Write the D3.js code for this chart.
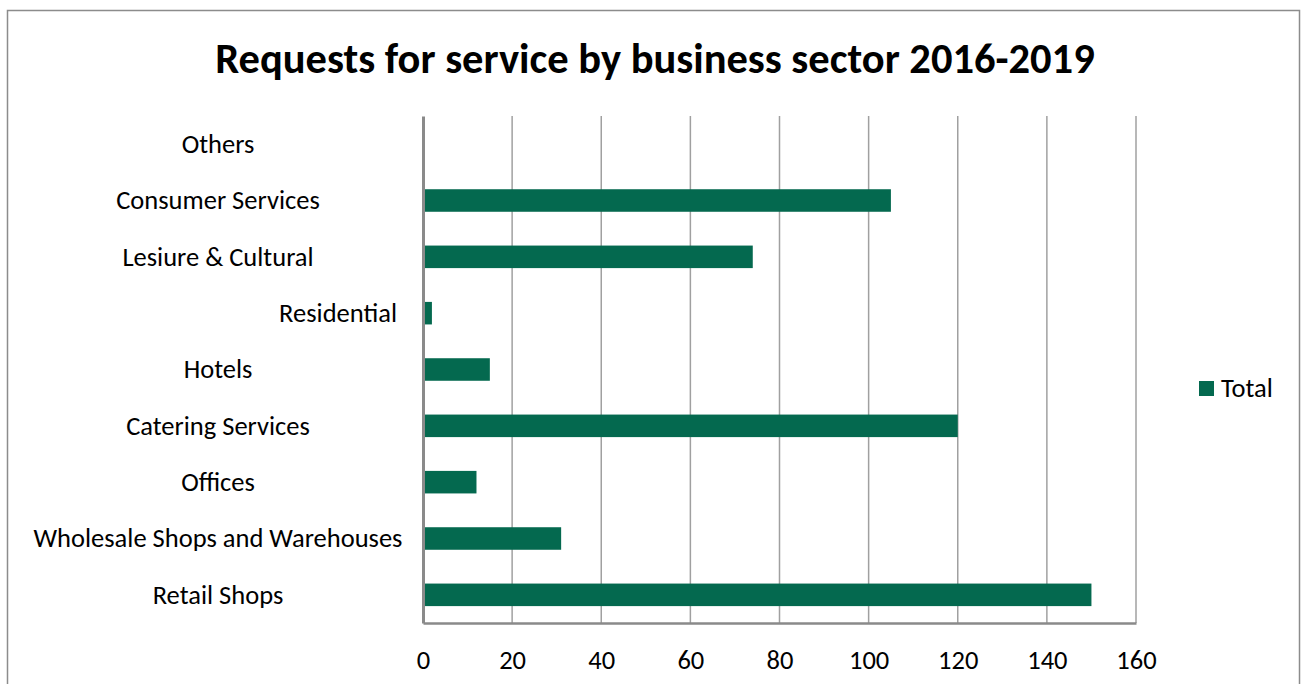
<!DOCTYPE html>
<html>
<head>
<meta charset="utf-8">
<script src="https://cdn.jsdelivr.net/npm/d3@7"></script>
<style>
  html, body { margin: 0; padding: 0; background: #fff; }
  svg { display: block; }
  text { font-family: Carlito, Lato, "Open Sans", sans-serif; fill: #000; }
</style>
</head>
<body>
<svg id="chart" width="1306" height="684"></svg>
<script>
// Requests for service, totals per business sector (2016-2019)
const sectors = [
  "Others",
  "Consumer Services",
  "Lesiure & Cultural",
  "Residential",
  "Hotels",
  "Catering Services",
  "Offices",
  "Wholesale Shops and Warehouses",
  "Retail Shops"
];
const totals = [0, 105, 74, 2, 15, 120, 12, 31, 150];
const xTicks = [0, 20, 40, 60, 80, 100, 120, 140, 160];
const seriesName = "Total";
const chartTitle = "Requests for service by business sector 2016-2019";

const rows = sectors.map((s, i) => ({ sector: s, value: totals[i] }));

const plot = { left: 423, right: 1136, top: 116, bottom: 623 };
const barColor = "#04694f";
const gridColor = "#a0a0a0";
const axisColor = "#8a8a8a";
const labelFont = "26.5px";

const svg = d3.select("#chart");

// outer chart frame
svg.append("rect")
  .attr("x", 7.5).attr("y", 10.5)
  .attr("width", 1292).attr("height", 690)
  .attr("fill", "#fff").attr("stroke", "#8c8c8c").attr("stroke-width", 1.5);

// title
svg.append("text")
  .attr("x", 655).attr("y", 73)
  .attr("text-anchor", "middle")
  .style("font-size", "42.5px").style("font-weight", "bold")
  .text(chartTitle);

const x = d3.scaleLinear().domain([0, 160]).range([plot.left, plot.right]);
const y = d3.scaleBand().domain(sectors)
  .range([plot.top, plot.bottom])
  .paddingInner(0.6).paddingOuter(0.3);

// vertical gridlines
svg.append("g")
  .selectAll("line")
  .data(xTicks.filter(t => t > 0))
  .join("line")
  .attr("x1", d => x(d)).attr("x2", d => x(d))
  .attr("y1", plot.top).attr("y2", plot.bottom)
  .attr("stroke", gridColor).attr("stroke-width", 1.5);

// bars
svg.append("g")
  .selectAll("rect")
  .data(rows)
  .join("rect")
  .attr("x", x(0))
  .attr("y", d => y(d.sector))
  .attr("width", d => x(d.value) - x(0))
  .attr("height", y.bandwidth())
  .attr("fill", barColor);

// x axis
const xAxis = d3.axisBottom(x).tickValues(xTicks).tickSize(0).tickPadding(27);
const gx = svg.append("g")
  .attr("transform", `translate(0,${plot.bottom})`)
  .call(xAxis);
gx.select(".domain").attr("stroke", axisColor).attr("stroke-width", 2.5);
gx.selectAll("text")
  .style("font-size", labelFont)
  .style("font-family", "Carlito, Lato, 'Open Sans', sans-serif")
  .attr("fill", "#000");

// y axis line
const yAxis = d3.axisLeft(y).tickSize(0).tickFormat("");
const gy = svg.append("g")
  .attr("transform", `translate(${plot.left},0)`)
  .call(yAxis);
gy.select(".domain").attr("stroke", axisColor).attr("stroke-width", 3);

// category labels in the label column, centred
svg.append("g")
  .selectAll("text")
  .data(rows)
  .join("text")
  .attr("x", d => d.sector === "Residential" ? 397 : 218)
  .attr("text-anchor", d => d.sector === "Residential" ? "end" : "middle")
  .attr("y", d => y(d.sector) + y.bandwidth() / 2)
  .attr("dy", "0.33em")
  .style("font-size", labelFont)
  .text(d => d.sector);

// legend
const lg = svg.append("g").attr("transform", "translate(1199,381)");
lg.append("rect").attr("width", 15).attr("height", 15).attr("fill", barColor);
lg.append("text").attr("x", 22).attr("y", 7.5).attr("dy", "0.33em")
  .style("font-size", labelFont).text(seriesName);
</script>
</body>
</html>
